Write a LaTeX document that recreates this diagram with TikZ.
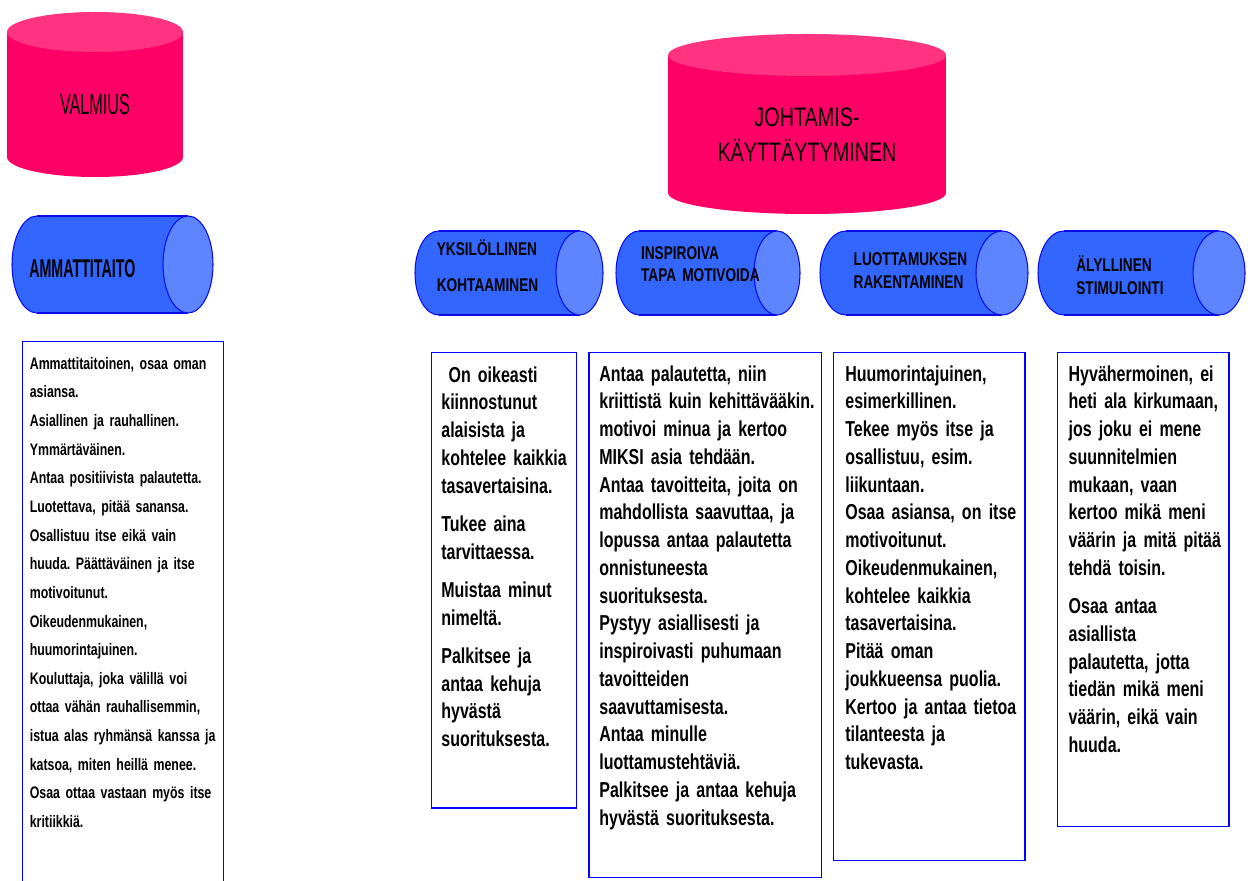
\documentclass[tikz,border=0pt]{standalone}
\usepackage{fontspec}
\setmainfont[FakeStretch=0.74]{Liberation Sans}
\newfontfamily\tallfont[FakeStretch=0.555]{Liberation Sans}
\frenchspacing
\protected\def\narrowsp{\spaceskip=0.19em\relax}
\definecolor{pinkbody}{RGB}{255,0,102}
\definecolor{pinktop}{RGB}{255,51,128}
\definecolor{bluebody}{RGB}{51,102,255}
\definecolor{bluecap}{RGB}{92,133,255}
\definecolor{blueline}{RGB}{10,10,235}

\begin{document}
\begin{tikzpicture}[x=0.02cm,y=-0.02cm,
    cyl/.style={fill=bluebody},
    cylline/.style={draw=blueline,line width=0.6pt},
    frame/.style={draw=blue,line width=0.7pt},
    cyllabel/.style={anchor=base west,inner sep=0pt,text width=3cm,align=left,font=\fontsize{10.5}{12.75}\selectfont\bfseries\narrowsp},
    boxtext/.style={anchor=base west,inner sep=0pt,text width=5cm,align=left,font=\fontsize{12.3}{15.8}\selectfont\bfseries\narrowsp}]
                  \clip (0,0) rectangle (1253,881);
                  \fill[white] (0,0) rectangle (1253,881);
                  % pinkit lieriot
                  \fill[pinkbody] (7,32) rectangle (183,157);
                  \fill[pinkbody] (95,157) ellipse [x radius=88, y radius=20];
                  \fill[pinktop] (95,32) ellipse [x radius=88, y radius=20];
                  \node[font=\tallfont\fontsize{16.6}{20}\selectfont] (valmius) at (95,104.5) {VALMIUS};
                  \fill[pinkbody] (668,55) rectangle (946,193);
                  \fill[pinkbody] (807,193) ellipse [x radius=139, y radius=21];
                  \fill[pinktop] (807,55) ellipse [x radius=139, y radius=21];
                  \node[anchor=base,inner sep=0pt,text width=6cm,align=center,font=\fontsize{15.2}{19.8}\selectfont] (johtamis) at (807,126.7) {JOHTAMIS-\\K\"AYTT\"AYTYMINEN};
                  % siniset lieriot
                  \filldraw[cyl,cylline] (37,264.5) ellipse [x radius=25, y radius=48.5];
                  \fill[cyl] (37,216) rectangle (188,313);
                  \draw[cylline] (37,216) -- (188,216) (37,313) -- (188,313);
                  \filldraw[fill=bluecap,cylline] (188,264.5) ellipse [x radius=25, y radius=48.5];
                  \node[anchor=base west,inner sep=0pt,font=\tallfont\fontsize{14.6}{17}\selectfont\bfseries] (ammatti) at (29,277.5) {AMMATTITAITO};
                  \filldraw[cyl,cylline] (438.5,273) ellipse [x radius=23.5, y radius=42];
                  \fill[cyl] (438.5,231) rectangle (579.5,315);
                  \draw[cylline] (438.5,231) -- (579.5,231) (438.5,315) -- (579.5,315);
                  \filldraw[fill=bluecap,cylline] (579.5,273) ellipse [x radius=23.5, y radius=42];
                  \node[cyllabel] (yksilo) at (436.5,256) {YKSIL\"OLLINEN\\[7.5pt]KOHTAAMINEN};
                  \filldraw[cyl,cylline] (639,273) ellipse [x radius=23, y radius=42];
                  \fill[cyl] (639,231) rectangle (777,315);
                  \draw[cylline] (639,231) -- (777,231) (639,315) -- (777,315);
                  \filldraw[fill=bluecap,cylline] (777,273) ellipse [x radius=23, y radius=42];
                  \node[cyllabel] (inspiroiva) at (640.7,259.3) {INSPIROIVA\\TAPA MOTIVOIDA};
                  \filldraw[cyl,cylline] (846,273) ellipse [x radius=26, y radius=42];
                  \fill[cyl] (846,231) rectangle (1002,315);
                  \draw[cylline] (846,231) -- (1002,231) (846,315) -- (1002,315);
                  \filldraw[fill=bluecap,cylline] (1002,273) ellipse [x radius=26, y radius=42];
                  \node[cyllabel] (luottamus) at (853.3,265.7) {LUOTTAMUKSEN\\RAKENTAMINEN};
                  \filldraw[cyl,cylline] (1064,273) ellipse [x radius=26, y radius=42];
                  \fill[cyl] (1064,231) rectangle (1219,315);
                  \draw[cylline] (1064,231) -- (1219,231) (1064,315) -- (1219,315);
                  \filldraw[fill=bluecap,cylline] (1219,273) ellipse [x radius=26, y radius=42];
                  \node[cyllabel] (alyllinen) at (1076,271.7) {\"ALYLLINEN\\STIMULOINTI};
                  % laatikot
                  \draw[frame] (22.7,895) -- (22.7,341.7) -- (223.3,341.7) -- (223.3,895);
                  \draw[frame] (431.7,352.7) rectangle (576.7,808);
                  \draw[frame] (589,352.7) rectangle (821.7,877.5);
                  \draw[frame] (833.3,352.7) rectangle (1025,860.5);
                  \draw[frame] (1057.3,352.7) rectangle (1229,826.5);
                  \node[boxtext,font=\fontsize{9.5}{16.3}\selectfont\bfseries\narrowsp] (teksti1) at (29.5,369.3) {Ammattitaitoinen, osaa oman\\asiansa.\\Asiallinen ja rauhallinen.\\Ymm\"art\"av\"ainen.\\Antaa positiivista palautetta.\\Luotettava, pit\"a\"a sanansa.\\Osallistuu itse eik\"a vain\\huuda. P\"a\"att\"av\"ainen ja itse\\motivoitunut.\\Oikeudenmukainen,\\huumorintajuinen.\\Kouluttaja, joka v\"alill\"a voi\\ottaa v\"ah\"an rauhallisemmin,\\istua alas ryhm\"ans\"a kanssa ja\\katsoa, miten heill\"a menee.\\Osaa ottaa vastaan my\"os itse\\kritiikki\"a.};
                  \node[boxtext] (teksti2) at (441,382) {\ On oikeasti\\kiinnostunut\\alaisista ja\\kohtelee kaikkia\\tasavertaisina.\\[6pt]Tukee aina\\tarvittaessa.\\[6pt]Muistaa minut\\nimelt\"a.\\[6pt]Palkitsee ja\\antaa kehuja\\hyv\"ast\"a\\suorituksesta.};
                  \node[boxtext] (teksti3) at (599,381) {Antaa palautetta, niin\\kriittist\"a kuin kehitt\"av\"a\"akin.\\motivoi minua ja kertoo\\MIKSI asia tehd\"a\"an.\\Antaa tavoitteita, joita on\\mahdollista saavuttaa, ja\\lopussa antaa palautetta\\onnistuneesta\\suorituksesta.\\Pystyy asiallisesti ja\\inspiroivasti puhumaan\\tavoitteiden\\saavuttamisesta.\\Antaa minulle\\luottamusteht\"avi\"a.\\Palkitsee ja antaa kehuja\\hyv\"ast\"a suorituksesta.};
                  \node[boxtext] (teksti4) at (845,381) {Huumorintajuinen,\\esimerkillinen.\\Tekee my\"os itse ja\\osallistuu, esim.\\liikuntaan.\\Osaa asiansa, on itse\\motivoitunut.\\Oikeudenmukainen,\\kohtelee kaikkia\\tasavertaisina.\\Pit\"a\"a oman\\joukkueensa puolia.\\Kertoo ja antaa tietoa\\tilanteesta ja\\tukevasta.};
                  \node[boxtext] (teksti5) at (1068.3,381) {Hyv\"ahermoinen, ei\\heti ala kirkumaan,\\jos joku ei mene\\suunnitelmien\\mukaan, vaan\\kertoo mik\"a meni\\v\"a\"arin ja mit\"a pit\"a\"a\\tehd\"a toisin.\\[6pt]Osaa antaa\\asiallista\\palautetta, jotta\\tied\"an mik\"a meni\\v\"a\"arin, eik\"a vain\\huuda.};
              \end{tikzpicture}
\end{document}
